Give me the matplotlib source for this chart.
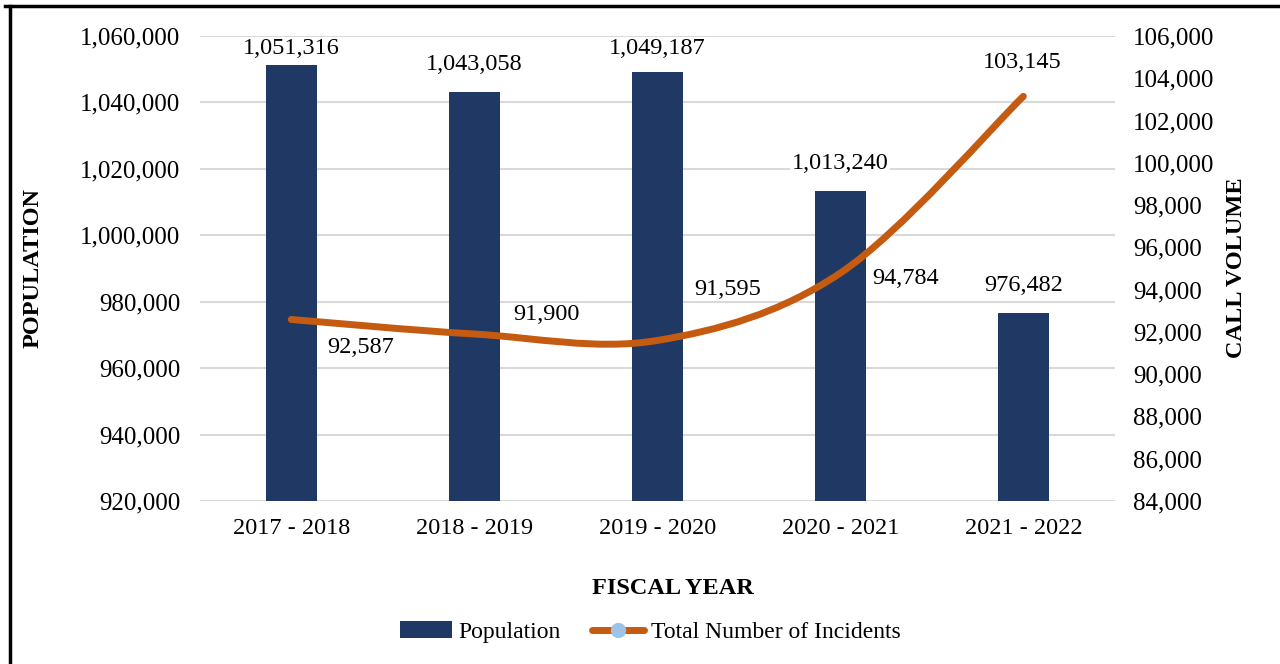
import matplotlib.pyplot as plt
from matplotlib.path import Path
from matplotlib.patches import PathPatch, Patch
from matplotlib.lines import Line2D
from matplotlib.ticker import FuncFormatter

years = ["2017 - 2018", "2018 - 2019", "2019 - 2020", "2020 - 2021", "2021 - 2022"]
population = [1051316, 1043058, 1049187, 1013240, 976482]
incidents = [92587, 91900, 91595, 94784, 103145]

bar_color = "#203864"
line_color = "#C55A11"
grid_color = "#D9D9D9"
fs = 17.5

plt.rcParams["font.family"] = ["Liberation Serif", "DejaVu Serif"]

fig = plt.figure(figsize=(12.8, 6.64), dpi=100)
ax = fig.add_axes([0.156, 0.2455, 0.715, 0.7003])
ax2 = ax.twinx()

x = list(range(len(years)))

# bars (population, left axis)
ax.set_ylim(920000, 1060000)
ax.set_xlim(-0.5, len(years) - 0.5)
ax.set_yticks(range(920000, 1060001, 20000))
ax.yaxis.grid(True, color=grid_color, lw=1.5)
ax.set_axisbelow(True)
ax.bar(x, population, width=0.28, color=bar_color, zorder=2)

top_cap = 1060000 - 13 * 140000 / 465
for xi, v in zip(x, population):
    ly = min(v + 8300, top_cap)
    ax.text(xi, ly, f"{v:,}", ha="center", va="center", fontsize=fs, zorder=4,
            bbox=dict(facecolor="white", edgecolor="none", pad=1.0))

# smoothed line (incidents, right axis)
ax2.set_ylim(84000, 106000)
ax2.set_yticks(range(84000, 106001, 2000))
pts = list(zip(x, incidents))
verts = [pts[0]]
codes = [Path.MOVETO]
for i in range(len(pts) - 1):
    p0 = pts[max(i - 1, 0)]
    p1 = pts[i]
    p2 = pts[i + 1]
    p3 = pts[min(i + 2, len(pts) - 1)]
    c1 = (p1[0] + (p2[0] - p0[0]) / 6, p1[1] + (p2[1] - p0[1]) / 6)
    c2 = (p2[0] - (p3[0] - p1[0]) / 6, p2[1] - (p3[1] - p1[1]) / 6)
    verts += [c1, c2, p2]
    codes += [Path.CURVE4] * 3
ax2.add_patch(PathPatch(Path(verts, codes), facecolor="none", edgecolor=line_color,
                        lw=5, capstyle="round", zorder=3))

offsets = [(50, -20), (52, 14), (51, 37), (47, -4), (-1, 24)]
for xi, v, off in zip(x, incidents, offsets):
    ax2.annotate(f"{v:,}", (xi, v), xytext=off, textcoords="offset points",
                 ha="center", va="center", fontsize=fs, zorder=4,
                 bbox=dict(facecolor="white", edgecolor="none", pad=1.0))

fmt = FuncFormatter(lambda v, p: f"{int(v):,}")
ax.yaxis.set_major_formatter(fmt)
ax2.yaxis.set_major_formatter(fmt)
ax.set_xticks(x)
ax.set_xticklabels(years)
for a in (ax, ax2):
    for s in a.spines.values():
        s.set_visible(False)
ax.tick_params(axis="y", length=0, labelsize=18, pad=14)
ax.tick_params(axis="x", length=0, labelsize=fs, pad=12)
ax2.tick_params(axis="y", length=0, labelsize=18, pad=13)

fig.text(33 / 1280, 1 - 268 / 664, "POPULATION", rotation=90, ha="center", va="center",
         fontsize=fs, fontweight="bold")
fig.text(1237 / 1280, 1 - 268 / 664, "CALL VOLUME", rotation=90, ha="center", va="center",
         fontsize=fs, fontweight="bold")
fig.text(673 / 1280, 1 - 588 / 664, "FISCAL YEAR", ha="center", va="center",
         fontsize=fs, fontweight="bold")

handles = [Patch(facecolor=bar_color, edgecolor="none"),
           Line2D([], [], color=line_color, lw=5, solid_capstyle="round",
                  marker="o", markersize=10, markerfacecolor="#9DC3E6", markeredgecolor="#9DC3E6")]
fig.legend(handles, ["Population", "Total Number of Incidents"], loc="center",
           bbox_to_anchor=(650 / 1280, 1 - 632 / 664), ncol=2, frameon=False,
           fontsize=17, handlelength=2.2, handleheight=0.7, handletextpad=0.3,
           columnspacing=1.3)

# outer frame (top and left edges)
fig.add_artist(Line2D([5 / 1280, 1], [1 - 6 / 664, 1 - 6 / 664], color="black", lw=2.5,
                      transform=fig.transFigure))
fig.add_artist(Line2D([10 / 1280, 10 / 1280], [0, 1 - 6 / 664], color="black", lw=2.5,
                      transform=fig.transFigure))

fig.savefig("out.png", dpi=100)
